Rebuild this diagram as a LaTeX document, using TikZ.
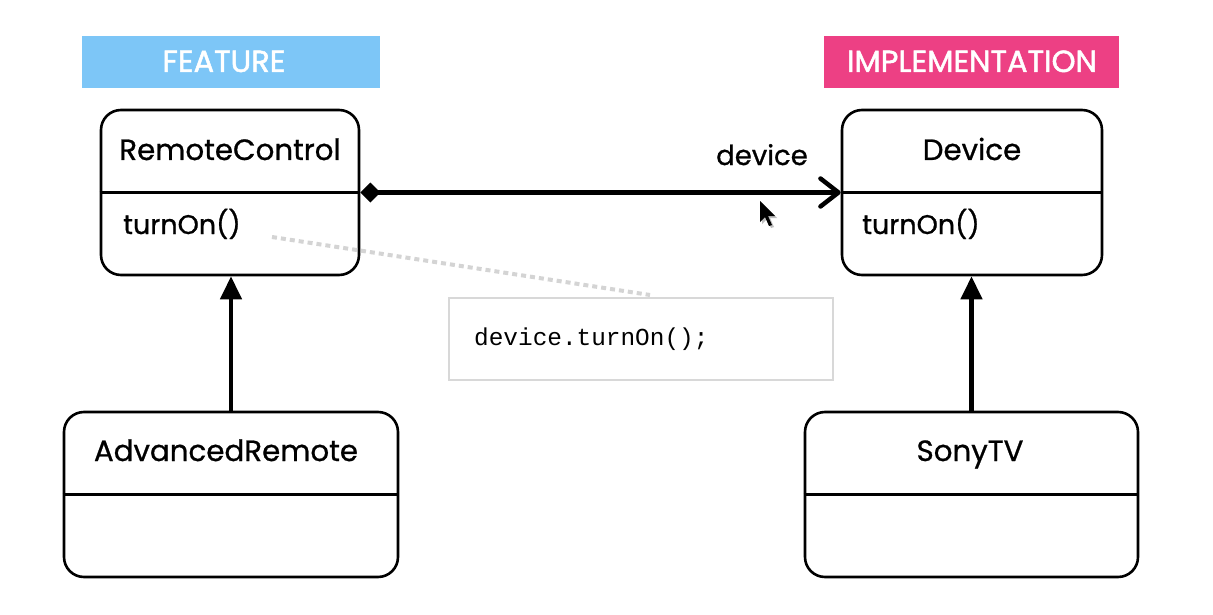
\documentclass[tikz,border=0pt]{standalone}
\usepackage{fontspec}
\setmainfont{Poppins}[FakeBold=0.8]
\newfontfamily\bannerfont{Poppins}[FakeBold=1.6]
\newfontfamily\codefont{Liberation Mono}
\usetikzlibrary{arrows.meta}
\definecolor{featblue}{RGB}{125,198,247}
\definecolor{implpink}{RGB}{237,64,132}
\definecolor{notegray}{RGB}{216,216,216}
\definecolor{dotgray}{RGB}{212,212,212}
\begin{document}
\begin{tikzpicture}[x=1pt,y=-1pt,
  classbox/.style={draw=black, line width=2.6pt, rounded corners=20pt, minimum height=165pt, inner sep=0pt},
  divider/.style={draw=black, line width=2.6pt},
  banner/.style={minimum height=52pt, inner sep=0pt},
  bannertext/.style={font=\bannerfont\fontsize{30.5}{35}\selectfont, text=white, anchor=base, inner sep=0pt},
  lbl/.style={font=\fontsize{29.3}{34}\selectfont, anchor=base, inner sep=0pt},
  oplbl/.style={font=\fontsize{27}{32}\selectfont, anchor=base west, inner sep=0pt},
  assoclabel/.style={font=\fontsize{27.5}{32}\selectfont, anchor=base, inner sep=0pt},
  inherit/.style={line width=4.5pt, -{Triangle[length=23pt,width=21pt]}},
  assoc/.style={line width=4.5pt, {Diamond[length=20pt,width=20pt]}-{Straight Barb[length=18pt,width=28pt,line cap=round,line join=round]}},
  dotline/.style={draw=dotgray, line width=4pt, dash pattern=on 5pt off 4pt},
  notebox/.style={draw=notegray, line width=2.5pt, minimum width=384pt, minimum height=82pt, inner sep=0pt},
  codetext/.style={font=\codefont\fontsize{24.4}{28}\selectfont, anchor=base west, inner sep=0pt}
]
\fill[white] (0,0) rectangle (1213,615);
\useasboundingbox (0,0) rectangle (1213,615);

% banners
\node[banner, fill=featblue, minimum width=298pt] (featbanner) at (231,62) {};
\node[bannertext] (feattext) at (224,72) {FEATURE};
\node[banner, fill=implpink, minimum width=295pt] (implbanner) at (971.5,62) {};
\node[bannertext] (impltext) at (972,72) {IMPLEMENTATION};

% class boxes
\node[classbox, minimum width=258pt] (rc) at (230,192.5) {};
\draw[divider] (rc.west) -- (rc.east);
\node[lbl] (rctitle) at (230,160) {RemoteControl};
\node[oplbl] (rcop) at (123,234) {turnOn()};

\node[classbox, minimum width=260pt] (dev) at (972,192.5) {};
\draw[divider] (dev.west) -- (dev.east);
\node[lbl] (devtitle) at (972,160) {Device};
\node[oplbl] (devop) at (862,234) {turnOn()};

\node[classbox, minimum width=334pt] (ar) at (231,494.5) {};
\draw[divider] (ar.west) -- (ar.east);
\node[lbl] (artitle) at (226,461) {AdvancedRemote};

\node[classbox, minimum width=333pt] (sony) at (971.5,494.5) {};
\draw[divider] (sony.west) -- (sony.east);
\node[lbl] (sonytitle) at (970,461) {SonyTV};

% connectors
\draw[inherit] (ar.north) -- (ar.north |- rc.south);
\draw[inherit] (sony.north) -- (sony.north |- dev.south);
\draw[assoc] (rc.east) -- (dev.west);
\node[assoclabel] (assoclbl) at (762,165) {device};

% note
\node[notebox] (note) at (641,339) {};
\node[codetext] (code) at (474,345) {device.turnOn();};
\coordinate (dstart) at (272,237);
\coordinate (dend) at (650,295);
\draw[dotline] (dstart) -- (dend);

% mouse cursor
\fill[black!25] (762,203) -- (762,224) -- (767,219) -- (771,228) -- (774,227) -- (770,218) -- (777,218) -- cycle;
\fill[black] (760,201) -- (760,222) -- (765,217) -- (769,226) -- (772,225) -- (768,216) -- (775,216) -- cycle;
\end{tikzpicture}
\end{document}
